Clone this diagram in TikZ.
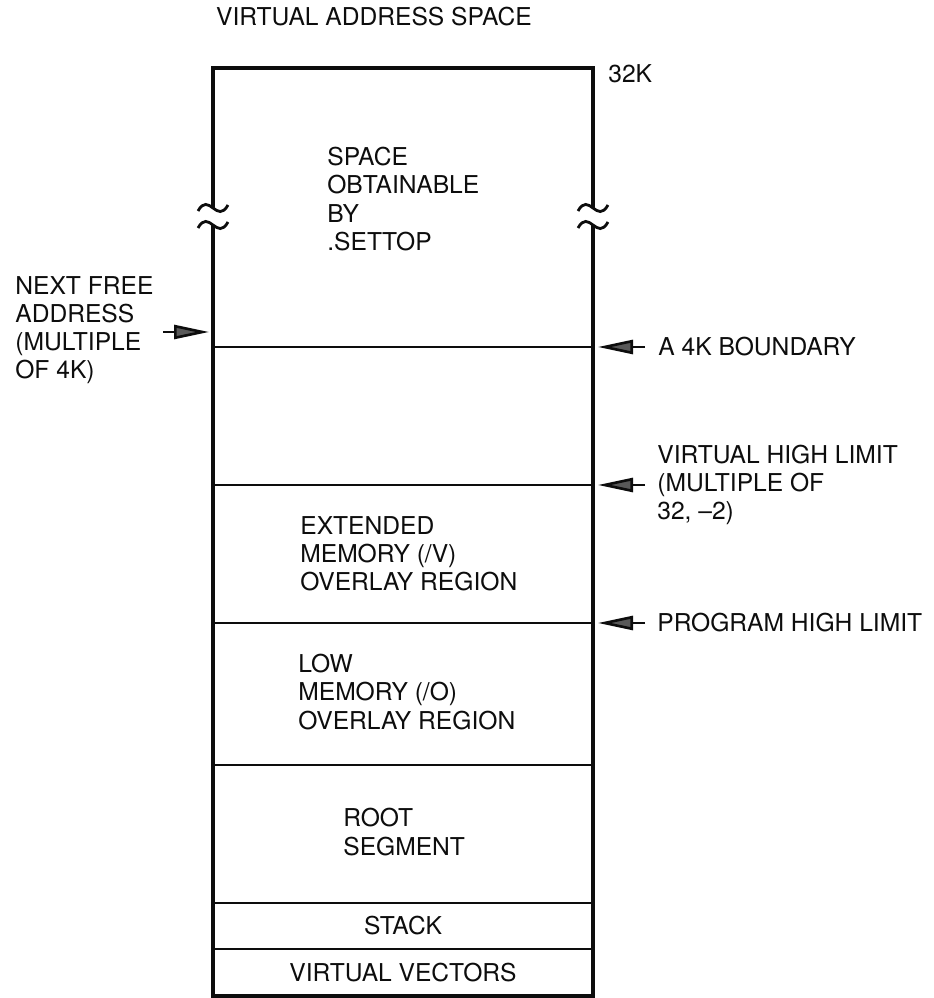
\documentclass[tikz,border=0pt]{standalone}
\usepackage{fontspec}
\setmainfont{TeX Gyre Heros}
\usetikzlibrary{arrows.meta}
\definecolor{DiagramInk}{gray}{0.05}
\definecolor{TipShade}{gray}{0.35}
\tikzset{
  memmap/.style={font=\fontsize{14}{16}\selectfont,text=DiagramInk},
  frame/.style={draw=DiagramInk,line width=2.2pt},
  divider/.style={draw=DiagramInk,line width=1.4pt},
  pointer/.style={-{Triangle[length=7mm,width=2.8mm,fill=TipShade]},draw=DiagramInk,line width=1.5pt},
  lbl/.style={anchor=west,align=left,inner sep=0pt},
}
\begin{document}
\begin{tikzpicture}[memmap]
  \useasboundingbox (0,0) rectangle (18.68,19.96);
  \node (title) at (7.48,19.62) {VIRTUAL ADDRESS SPACE};
  \node[lbl] (top32k) at (12.16,18.48) {32K};

  % outer frame, cut where the space is shortened
  \draw[frame] (4.26,15.80) -- (4.26,18.60) -- (11.86,18.60) -- (11.86,15.80);
  \draw[frame] (4.26,15.46) -- (4.26,0.04) -- (11.86,0.04) -- (11.86,15.46);
  \foreach \x in {4.26,11.86}
    \foreach \y in {15.80,15.46}
      \draw[frame,line width=1.6pt] (\x,\y) ++(-0.3,-0.06)
        .. controls +(0.22,0.4) and +(-0.22,-0.4) .. ++(0.6,0.12);

  % dividers
  \foreach \y in {13.02,10.26,7.50,4.66,1.90,0.98}
    \draw[divider] (4.26,\y) -- (11.86,\y);

  \node[lbl] (settop) at (6.54,15.98) {SPACE\\OBTAINABLE\\BY\\.SETTOP};
  \node[lbl] (extmem) at (6.00,8.88) {EXTENDED\\MEMORY (/V)\\OVERLAY REGION};
  \node[lbl] (lowmem) at (5.96,6.12) {LOW\\MEMORY (/O)\\OVERLAY REGION};
  \node[lbl] (root) at (6.86,3.32) {ROOT\\SEGMENT};
  \node (stack) at (8.06,1.44) {STACK};
  \node (vvec) at (8.06,0.51) {VIRTUAL VECTORS};

  % left pointer
  \node[lbl] (nextfree) at (0.30,13.36) {NEXT FREE\\ADDRESS\\(MULTIPLE\\OF 4K)};
  \coordinate (nftail) at (3.26,13.32);
  \coordinate (nfhead) at (4.18,13.32);
  \draw[pointer] (nftail) -- (nfhead);

  % right pointers
  \node[lbl] (bound4k) at (13.16,13.02) {A 4K BOUNDARY};
  \node[lbl] (vhigh) at (13.14,10.26) {VIRTUAL HIGH LIMIT\\(MULTIPLE OF\\32, --2)};
  \node[lbl] (phigh) at (13.14,7.50) {PROGRAM HIGH LIMIT};
  \foreach \lvl/\y in {b4k/13.02,vhl/10.26,phl/7.50}{
    \coordinate (\lvl tail) at (12.90,\y);
    \coordinate (\lvl head) at (11.96,\y);
    \draw[pointer] (\lvl tail) -- (\lvl head);
  }
\end{tikzpicture}
\end{document}
